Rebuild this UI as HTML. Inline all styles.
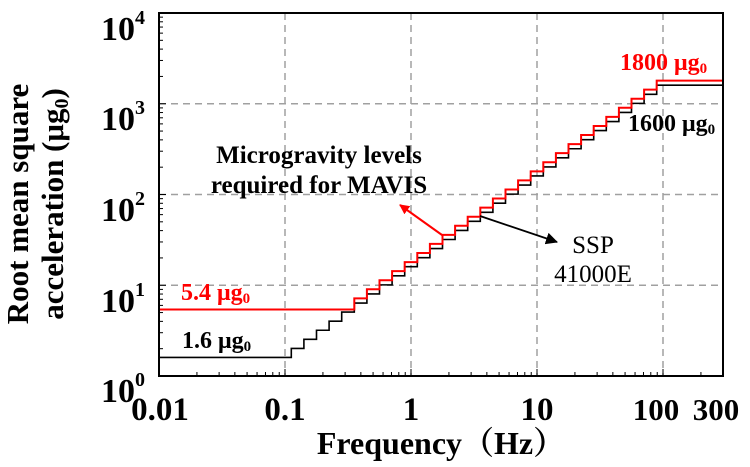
<!DOCTYPE html>
<html><head><meta charset="utf-8"><style>
html,body{margin:0;padding:0;background:#fff;}
svg{display:block;font-family:"Liberation Serif","Times New Roman",serif;}
</style></head><body>
<svg id="s" width="750" height="467" viewBox="0 0 750 467" xmlns="http://www.w3.org/2000/svg">
<defs>
<marker id="ar" markerWidth="10" markerHeight="10" refX="9" refY="5" orient="auto" markerUnits="userSpaceOnUse"><path d="M0,0 L10,5 L0,10 z" fill="#f00"/></marker>
<marker id="ab" markerWidth="12" markerHeight="12" refX="11" refY="6" orient="auto" markerUnits="userSpaceOnUse"><path d="M0,0 L12,6 L0,12 z" fill="#000"/></marker>
</defs>
<g id="grid" stroke="#a0a0a0" stroke-width="1.5" stroke-dasharray="7,5" fill="none"></g>
<g id="ticks" stroke="#000" stroke-width="1"></g>
<path id="blk" fill="none" stroke="#000" stroke-width="1.6"/>
<path id="red" fill="none" stroke="#f00" stroke-width="2"/>
<rect x="159" y="13" width="564" height="363" fill="none" stroke="#000" stroke-width="2"/>
<line x1="442" y1="235" x2="400" y2="205" stroke="#f00" stroke-width="2" marker-end="url(#ar)"/>
<line x1="480" y1="216" x2="557" y2="242" stroke="#000" stroke-width="1.8" marker-end="url(#ab)"/>
<g font-weight="bold" font-size="25" text-anchor="middle">
<text x="319" y="163">Microgravity levels</text>
<text x="319" y="193">required for MAVIS</text>
</g>
<g font-size="25" text-anchor="middle">
<text x="593" y="253">SSP</text>
<text x="593" y="282">41000E</text>
</g>
<g font-weight="bold" font-size="24">
<text x="620" y="70" fill="#f00">1800 μg<tspan font-size="15" dy="3">0</tspan></text>
<text x="628" y="131" fill="#000">1600 μg<tspan font-size="15" dy="3">0</tspan></text>
<text x="181" y="300" fill="#f00">5.4 μg<tspan font-size="15" dy="3">0</tspan></text>
<text x="182" y="348" fill="#000">1.6 μg<tspan font-size="15" dy="3">0</tspan></text>
</g>
<g font-weight="bold" font-size="34" text-anchor="end">
<text x="145" y="40">10<tspan font-size="20" dy="-16">4</tspan></text>
<text x="145" y="130">10<tspan font-size="20" dy="-16">3</tspan></text>
<text x="145" y="221">10<tspan font-size="20" dy="-16">2</tspan></text>
<text x="145" y="312">10<tspan font-size="20" dy="-16">1</tspan></text>
<text x="145" y="402">10<tspan font-size="20" dy="-16">0</tspan></text>
</g>
<g font-weight="bold" font-size="33" text-anchor="middle">
<text x="160" y="420">0.01</text>
<text x="285" y="420">0.1</text>
<text x="411" y="420">1</text>
<text x="537" y="420">10</text>
</g>
<g font-weight="bold" font-size="31" text-anchor="middle">
<text x="656" y="420">100</text>
<text x="716" y="420">300</text>
</g>
<text x="441" y="454" font-weight="bold" font-size="32" text-anchor="middle" font-family="'Liberation Serif','Noto Serif CJK SC',serif">Frequency（Hz）</text>
<g font-weight="bold" font-size="31" text-anchor="middle">
<text transform="translate(28,204) rotate(-90)">Root mean square</text>
<text transform="translate(63,204) rotate(-90)">acceleration (μg<tspan font-size="20" dy="5">0</tspan><tspan dy="-5">)</tspan></text>
</g>
</svg>
<script>
var L=159,R=723,T=13,B=376,DX=126,DY=90.75;
function X(f){return L+DX*(Math.log10(f)+2);}
function Y(a){return B-DY*Math.log10(a);}
var g=document.getElementById('grid'),t=document.getElementById('ticks'),ns="http://www.w3.org/2000/svg";
function ln(p,x1,y1,x2,y2){var l=document.createElementNS(ns,'line');l.setAttribute('x1',x1);l.setAttribute('y1',y1);l.setAttribute('x2',x2);l.setAttribute('y2',y2);p.appendChild(l);}
for(var d=-1;d<=2;d++){ln(g,X(Math.pow(10,d)),T,X(Math.pow(10,d)),B);}
for(var d=1;d<=3;d++){ln(g,L,Y(Math.pow(10,d)),R,Y(Math.pow(10,d)));}
for(var d=-2;d<=2;d++)for(var m=1;m<10;m++){var f=m*Math.pow(10,d);if(f>300)break;ln(t,X(f),B,X(f),B-(m==1?7:4));}
for(var d=0;d<4;d++)for(var m=1;m<10;m++){var a=m*Math.pow(10,d);ln(t,L,Y(a),L+(m==1?7:4),Y(a));}
function path(k,start,first){
 var p="M"+L+","+Y(start);var e0=Math.pow(10,(first-0.5)/10);p+=" H"+X(e0);
 for(var n=first;n<=20;n++){var v=k*Math.pow(10,n/10);p+=" V"+Y(v);var e2=Math.pow(10,(n+0.5)/10);if(n<20)p+=" H"+X(e2);}
 p+=" H"+R;return p;}
document.getElementById('blk').setAttribute('d',path(16,1.6,-9));
document.getElementById('red').setAttribute('d',path(18,5.4,-4));
</script>
</body></html>
